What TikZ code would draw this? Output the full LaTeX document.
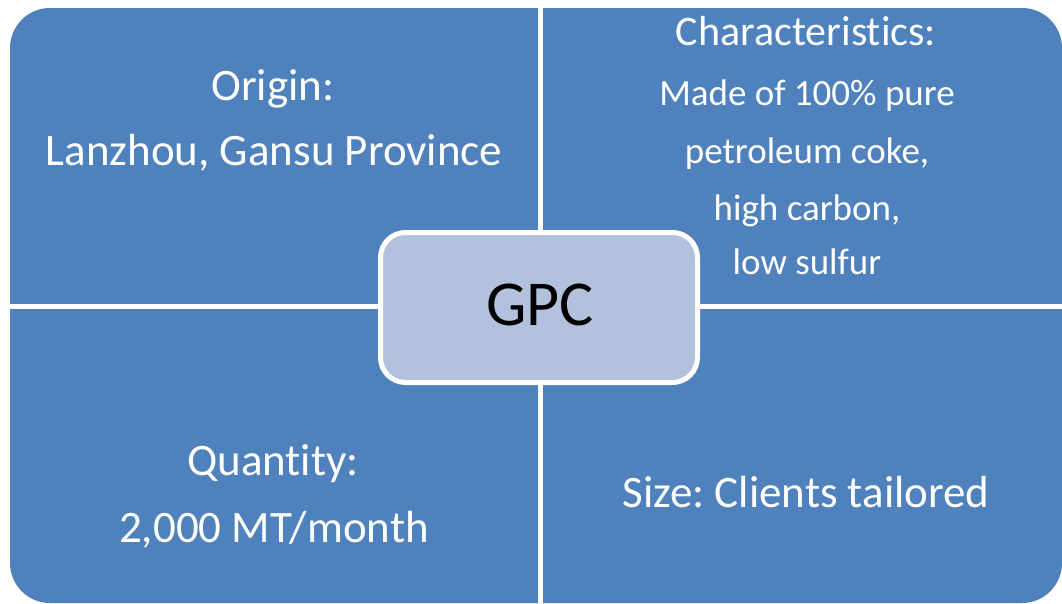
\documentclass[tikz,border=0pt]{standalone}
\usepackage{fontspec}
\setmainfont{Carlito}[RawFeature=-liga]
\frenchspacing
\definecolor{quadblue}{HTML}{4F81BD}
\definecolor{hubblue}{HTML}{B2C1DC}
\tikzset{
  quadtext/.style={white,anchor=base,inner sep=0pt,font=\fontsize{45}{54}\selectfont},
  smalltext/.style={white,anchor=base,inner sep=0pt,font=\fontsize{37}{44}\selectfont},
  hubtext/.style={black,anchor=base,inner sep=0pt,font=\fontsize{64}{77}\selectfont},
}

\begin{document}
\begin{tikzpicture}[x=1pt,y=-1pt]
\useasboundingbox (0,0) rectangle (1062,603);
% Quadrant background
\fill[quadblue,rounded corners=40pt] (10,8) rectangle (1062,603);
% White gaps between the quadrants
\draw[white,line width=5pt] (540.5,8) -- (540.5,603);
\draw[white,line width=5pt] (10,306) -- (1062,306);
% Centre box
\draw[white,fill=hubblue,line width=5pt,rounded corners=25pt] (380.5,232.5) rectangle (697.5,382.5);
\node[hubtext] (gpc) at (540,325) {GPC};

% Top left quadrant
\node[quadtext] (origin) at (273,100) {Origin:};
\node[quadtext] (place) at (274,165) {Lanzhou, Gansu Province};

% Top right quadrant
\node[quadtext,font=\fontsize{42}{50}\selectfont] (charact) at (806,45) {Characteristics:};
\node[smalltext] (made) at (807,105) {Made of 100\% pure};
\node[smalltext] (coke) at (807,163) {petroleum coke,};
\node[smalltext] (carbon) at (807,220) {high carbon,};
\node[smalltext] (sulfur) at (807,274) {low sulfur};

% Bottom left quadrant
\node[quadtext] (quantity) at (273,475) {Quantity:};
\node[quadtext] (amount) at (274,542) {2,000 MT/month};

% Bottom right quadrant
\node[quadtext] (size) at (806,507) {Size: Clients tailored};
\end{tikzpicture}
\end{document}
